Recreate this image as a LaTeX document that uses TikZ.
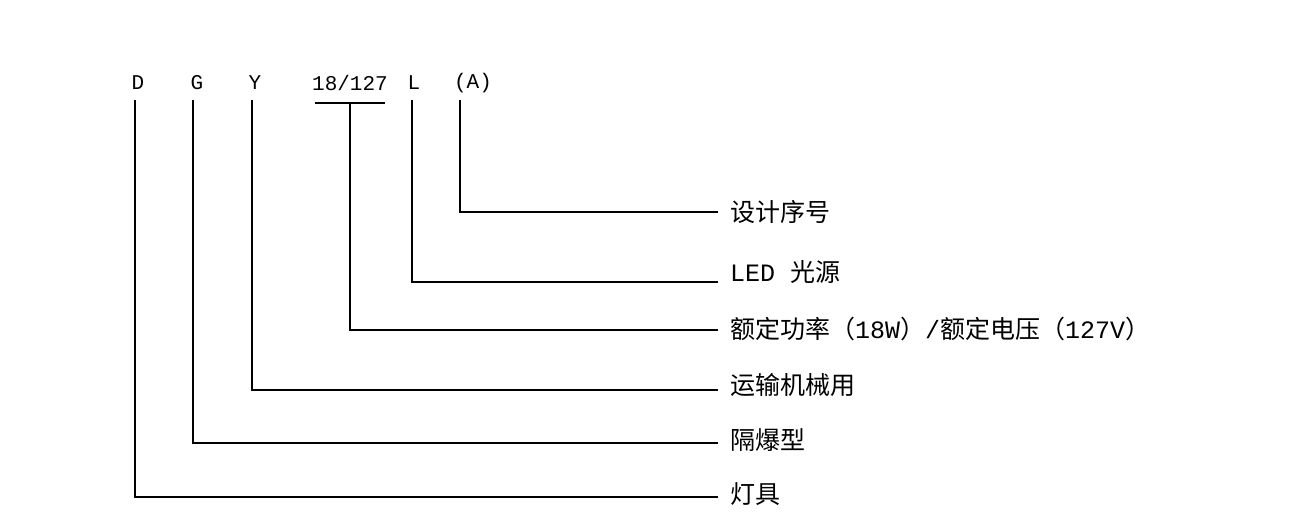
\documentclass[tikz,border=0pt]{standalone}
\usepackage{fontspec}
\setmainfont{Liberation Mono}
\newfontfamily\cjk{Noto Sans CJK SC}
\begin{document}
\begin{tikzpicture}[x=1pt,y=-1pt,
  top/.style={inner sep=0pt,font=\fontsize{21}{21}\selectfont},
  lab/.style={anchor=west,inner sep=0pt,font=\fontsize{25}{25}\selectfont},
  ln/.style={line width=1.6pt,black}]
\useasboundingbox[fill=white] (0,0) rectangle (1298,526);
\node[top] (D) at (138,83) {D};
\node[top] (G) at (197,83) {G};
\node[top] (Y) at (255,83) {Y};
\node[top] (P) at (350,83) {18/127};
\node[top] (L) at (414,83) {L};
\node[top] (A) at (473,83) {(A)};
\coordinate (u1) at (315,103); \coordinate (u2) at (385,103);
\draw[ln] (u1) -- (u2);
\node[lab] (tA) at (730,212) {{\cjk 设计序号}};
\node[lab] (tL) at (730,272) {LED {\cjk 光源}};
\node[lab] (tP) at (730,329) {{\cjk 额定功率（}18W{\cjk ）}/{\cjk 额定电压（}127V{\cjk ）}};
\node[lab] (tY) at (730,385) {{\cjk 运输机械用}};
\node[lab] (tG) at (730,440) {{\cjk 隔爆型}};
\node[lab] (tD) at (730,494) {{\cjk 灯具}};
\coordinate (eA) at (718,212); \coordinate (eL) at (718,282);
\coordinate (eP) at (718,330); \coordinate (eY) at (718,390);
\coordinate (eG) at (718,443); \coordinate (eD) at (718,497);
\draw[ln] (460,100) |- (eA);
\draw[ln] (412,100) |- (eL);
\draw[ln] (350,103) |- (eP);
\draw[ln] (252,100) |- (eY);
\draw[ln] (193,100) |- (eG);
\draw[ln] (135,100) |- (eD);
\end{tikzpicture}
\end{document}
